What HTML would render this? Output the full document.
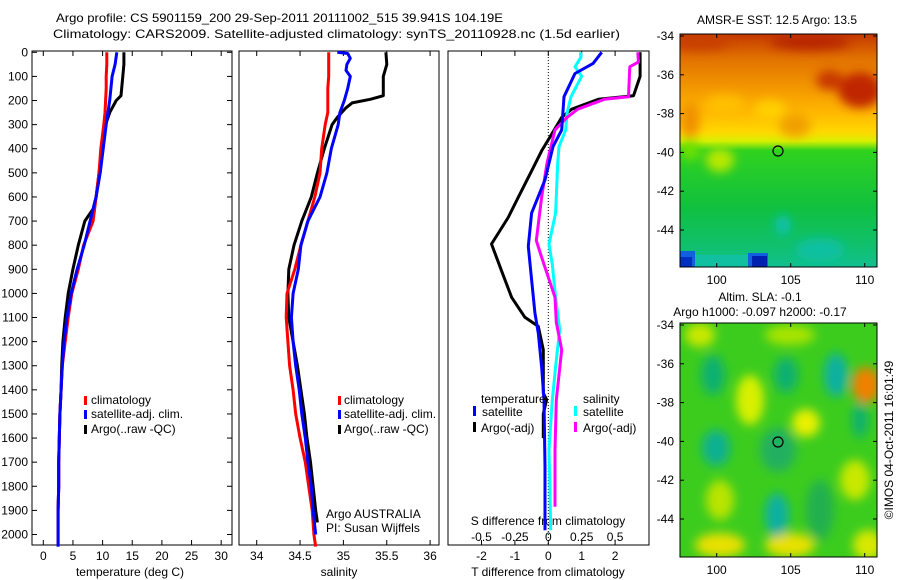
<!DOCTYPE html>
<html><head><meta charset="utf-8">
<style>
html,body{margin:0;padding:0;background:#fff;}
svg{display:block;font-family:"Liberation Sans",sans-serif;font-size:12px;}
</style></head>
<body>
<svg id="chart" width="900" height="580" viewBox="0 0 900 580" xmlns="http://www.w3.org/2000/svg">
<defs>
<linearGradient id="sstGrad" x1="0" y1="0" x2="0" y2="1">
<stop offset="0" stop-color="#c43800"/>
<stop offset="0.10" stop-color="#e07000"/>
<stop offset="0.22" stop-color="#f29400"/>
<stop offset="0.34" stop-color="#ffb800"/>
<stop offset="0.42" stop-color="#ffd800"/>
<stop offset="0.46" stop-color="#d8f000"/>
<stop offset="0.50" stop-color="#30d21e"/>
<stop offset="0.75" stop-color="#10c040"/>
<stop offset="0.92" stop-color="#10c070"/>
<stop offset="1" stop-color="#10c090"/>
</linearGradient>
<filter id="blur4"><feGaussianBlur stdDeviation="5"/></filter>
<clipPath id="clipM1"><rect x="680" y="34" width="197" height="233"/></clipPath>
<clipPath id="clipM2"><rect x="680" y="323" width="197" height="234"/></clipPath>
</defs>

<g>
<text x="56" y="22" textLength="447" lengthAdjust="spacingAndGlyphs">Argo profile: CS 5901159_200 29-Sep-2011 20111002_515 39.941S 104.19E</text>
<text x="53" y="38" textLength="567" lengthAdjust="spacingAndGlyphs">Climatology: CARS2009. Satellite-adjusted climatology: synTS_20110928.nc (1.5d earlier)</text>
</g>

<g id="axes"></g>
<g id="series"></g>

<g>
<rect x="84" y="396" width="3" height="9" fill="#f00"/><text x="91" y="404">climatology</text>
<rect x="84" y="410" width="3" height="9" fill="#00f"/><text x="91" y="418">satellite-adj. clim.</text>
<rect x="84" y="425" width="3" height="9" fill="#000"/><text x="91" y="433">Argo(..raw -QC)</text>
</g>
<g>
<rect x="338" y="396" width="3" height="9" fill="#f00"/><text x="344" y="404">climatology</text>
<rect x="338" y="410" width="3" height="9" fill="#00f"/><text x="344" y="418">satellite-adj. clim.</text>
<rect x="338" y="425" width="3" height="9" fill="#000"/><text x="344" y="433">Argo(..raw -QC)</text>
<text x="326" y="518">Argo AUSTRALIA</text>
<text x="326" y="532">PI: Susan Wijffels</text>
</g>
<g>
<text x="481" y="403">temperature</text>
<rect x="473" y="406" width="3" height="10" fill="#00f"/><text x="482" y="416">satellite</text>
<rect x="473" y="422" width="3" height="10" fill="#000"/><text x="481" y="432">Argo(-adj)</text>
<text x="583" y="403">salinity</text>
<rect x="574" y="406" width="3" height="10" fill="#0ff"/><text x="583" y="416">satellite</text>
<rect x="574" y="422" width="3" height="10" fill="#f0f"/><text x="583" y="432">Argo(-adj)</text>
</g>

<g>
<text x="777" y="24" text-anchor="middle">AMSR-E SST: 12.5 Argo: 13.5</text>
<g clip-path="url(#clipM1)">
<rect x="680" y="34" width="197" height="233" fill="url(#sstGrad)"/>
<g filter="url(#blur4)">
<ellipse cx="860" cy="90" rx="22" ry="18" fill="#c02800"/>
<ellipse cx="830" cy="80" rx="14" ry="10" fill="#c83800"/>
<ellipse cx="810" cy="42" rx="40" ry="8" fill="#b82800"/>
<ellipse cx="700" cy="42" rx="30" ry="8" fill="#c84000"/>
<ellipse cx="690" cy="120" rx="10" ry="18" fill="#f09000"/>
<ellipse cx="795" cy="125" rx="16" ry="12" fill="#f0a000"/>
<ellipse cx="725" cy="105" rx="20" ry="10" fill="#ffc000"/>
<ellipse cx="770" cy="110" rx="16" ry="10" fill="#ffd000"/>
<ellipse cx="720" cy="160" rx="14" ry="12" fill="#b8e800"/>
<ellipse cx="690" cy="150" rx="10" ry="10" fill="#70e000"/>
<ellipse cx="820" cy="250" rx="25" ry="12" fill="#10c0a0"/>
<ellipse cx="783" cy="225" rx="8" ry="10" fill="#10c0b0"/>
</g>
<rect x="680" y="251" width="15" height="16" fill="#1060e0"/>
<rect x="680" y="257" width="12" height="10" fill="#0030c0"/>
<rect x="748" y="253" width="20" height="14" fill="#1060e0"/>
<rect x="752" y="256" width="15" height="11" fill="#0020b0"/>
<rect x="695" y="255" width="53" height="12" fill="#10c0a0"/>
</g>
<rect x="680" y="34" width="197" height="233" fill="none" stroke="#000" stroke-width="1"/>
<circle cx="778" cy="151" r="5" fill="none" stroke="#000" stroke-width="1.2"/>
</g>

<g>
<text x="760" y="301" text-anchor="middle">Altim. SLA: -0.1</text>
<text x="760" y="316" text-anchor="middle">Argo h1000: -0.097 h2000: -0.17</text>
<g clip-path="url(#clipM2)">
<rect x="680" y="323" width="197" height="234" fill="#3ccc1e"/>
<g filter="url(#blur4)">
<ellipse cx="700" cy="335" rx="15" ry="12" fill="#c8e800"/>
<ellipse cx="790" cy="335" rx="25" ry="10" fill="#a8e400"/>
<ellipse cx="750" cy="400" rx="14" ry="25" fill="#d8f000"/>
<ellipse cx="806" cy="423" rx="14" ry="14" fill="#e8f000"/>
<ellipse cx="866" cy="385" rx="14" ry="18" fill="#f08000"/>
<ellipse cx="855" cy="480" rx="15" ry="20" fill="#c8e800"/>
<ellipse cx="720" cy="500" rx="14" ry="20" fill="#b8e400"/>
<ellipse cx="720" cy="545" rx="25" ry="12" fill="#e8e000"/>
<ellipse cx="790" cy="545" rx="25" ry="12" fill="#e8e000"/>
<ellipse cx="868" cy="545" rx="15" ry="15" fill="#d8e800"/>
<ellipse cx="713" cy="375" rx="12" ry="20" fill="#10b070"/>
<ellipse cx="786" cy="375" rx="12" ry="18" fill="#10b070"/>
<ellipse cx="836" cy="375" rx="12" ry="22" fill="#10b0a0"/>
<ellipse cx="716" cy="448" rx="14" ry="18" fill="#10b090"/>
<ellipse cx="778" cy="450" rx="18" ry="22" fill="#20b060"/>
<ellipse cx="777" cy="515" rx="12" ry="22" fill="#10b0a0"/>
<ellipse cx="860" cy="420" rx="8" ry="18" fill="#10b070"/>
<ellipse cx="820" cy="510" rx="14" ry="30" fill="#20b050"/>
</g>
</g>
<rect x="680" y="323" width="197" height="234" fill="none" stroke="#000" stroke-width="1"/>
<circle cx="778" cy="442" r="5" fill="none" stroke="#000" stroke-width="1.2"/>
<text transform="translate(893,440) rotate(-90)" text-anchor="middle">©IMOS 04-Oct-2011 16:01:49</text>
</g>

<script>
// ---- data ----
const depthTicks = [0,100,200,300,400,500,600,700,800,900,1000,1100,1200,1300,1400,1500,1600,1700,1800,1900,2000];
const tempTicks = [0,5,10,15,20,25,30];
const salTicks = [34,34.5,35,35.5,36];
const tdiffTicks = [-2,-1,0,1,2];
const sdiffTicks = [-0.5,-0.25,0,0.25,0.5];
const sdiffTickLabels = ["-0.5","-0.25","0","0.25","0.5"];

const depthStd = [0,50,100,150,200,250,300,400,500,600,700,800,900,1000,1100,1200,1300,1400,1500,1600,1700,1800,1900,2000,2050];
const tempClim = [10.7,10.7,10.6,10.6,10.5,10.4,10.2,9.7,9.4,8.9,8.4,6.8,5.9,4.8,4.2,3.7,3.2,3.0,2.8,2.7,2.6,2.6,2.5,2.5,2.5];
const tempSat  = [12.4,12.1,11.6,11.4,11.2,10.9,10.6,10.1,9.6,8.9,7.9,6.9,5.7,4.7,4.0,3.5,3.2,3.0,2.8,2.7,2.6,2.6,2.5,2.5,2.5];
const depthArgo = [0,50,100,180,200,250,300,400,500,600,650,700,800,900,1000,1100,1200,1300,1400,1500,1600,1700,1800,1900];
const tempArgo  = [13.6,13.6,13.4,13.1,12.3,11.2,10.5,9.9,9.4,8.9,8.4,7.0,5.9,5.0,4.2,3.7,3.3,3.1,3.0,2.8,2.7,2.6,2.6,2.5];

const salClim = [34.83,34.83,34.83,34.82,34.82,34.82,34.79,34.75,34.73,34.67,34.59,34.51,34.44,34.35,34.34,34.36,34.38,34.42,34.45,34.50,34.56,34.60,34.64,34.66,34.68];
const depthSalSat = [0,5,25,50,75,100,150,200,250,300,400,500,600,700,800,900,1000,1100,1200,1300,1400,1500,1600,1700,1800,1900,2000];
const salSat  = [34.93,35.05,35.08,35.04,35.03,35.08,35.05,35.01,34.96,34.94,34.86,34.81,34.73,34.59,34.51,34.48,34.42,34.40,34.42,34.45,34.49,34.52,34.56,34.59,34.63,34.65,34.68];
const depthSalArgo = [0,50,100,180,195,210,230,270,300,400,500,600,700,800,900,1000,1100,1200,1300,1400,1500,1600,1700,1800,1900,1950];
const salArgo = [35.49,35.50,35.46,35.46,35.31,35.10,35.03,34.93,34.87,34.78,34.70,34.63,34.52,34.43,34.37,34.36,34.37,34.42,34.47,34.51,34.55,34.58,34.62,34.65,34.68,34.70];

const depthDT = [0,46,88,184,322,391,529,667,805,943,1081,1165,1304,1442,1719,1982];
const tdiffSat = [1.6,1.34,0.8,0.47,0.4,0.14,-0.1,-0.5,-0.6,-0.5,-0.4,-0.3,-0.2,-0.13,-0.1,-0.1];
const depthDTA = [0,100,180,195,236,270,340,409,492,602,685,795,906,1016,1099,1137,1234,1413,1440,1500,1600];
const tdiffArgo = [2.75,2.75,2.55,1.5,0.7,0.4,0.1,-0.2,-0.5,-0.9,-1.2,-1.7,-1.4,-1.1,-0.7,-0.3,-0.15,-0.15,-0.05,-0.15,-0.15];
const depthDS = [0,20,60,99,184,253,322,391,460,667,795,880,1016,1150,1304,1442,1650,1800,1982];
const sdiffSat = [0.24,0.245,0.2,0.25,0.17,0.14,0.13,0.08,0.07,0.055,0.005,0.03,0.055,0.085,0.055,0.03,0.005,0.012,0.018];
const depthDSA = [0,40,60,184,195,236,270,322,460,602,781,850,1016,1120,1234,1442,1650,1885];
const sdiffArgo = [0.67,0.675,0.61,0.6,0.42,0.22,0.14,0.05,-0.01,-0.05,-0.09,-0.05,0.05,0.06,0.1,0.06,0.05,0.05];

// ---- layout ----
const Y0 = 52.3, PXD = 0.2411, YB = 545, YT = 51;
const yD = d => Y0 + d * PXD;
const P1 = {l:32, r:232}, P2 = {l:239, r:439}, P3 = {l:448, r:649};
const xT = v => 43.3 + v * 5.93;
const xS = v => 256.7 + (v - 34) * 86.7;
const xDT = v => 548.3 + v * 33.4;
const xDS = v => xDT(v * 4);

const NS = "http://www.w3.org/2000/svg";
const axes = document.getElementById('axes');
const series = document.getElementById('series');
function mk(tag, attrs, parent){ const e=document.createElementNS(NS,tag); for(const k in attrs) e.setAttribute(k,attrs[k]); parent.appendChild(e); return e; }

[[P1,'temperature-panel'],[P2,'salinity-panel'],[P3,'difference-panel']].forEach(([p,n])=>{
  const r = mk('rect',{x:p.l,y:YT,width:p.r-p.l,height:YB-YT,fill:'none',stroke:'#000','stroke-width':1},axes);
  
  
});
depthTicks.forEach(d=>{
  const y=yD(d);
  const t=mk('text',{x:28,y:y+4,'text-anchor':'end'},axes);
  t.textContent=d;
  
  
  mk('line',{x1:P1.l,x2:P1.l+5,y1:y,y2:y,stroke:'#000'},axes);
  mk('line',{x1:P1.r-5,x2:P1.r,y1:y,y2:y,stroke:'#000'},axes);
});
function xticks(vals, fx, p, labels){
  vals.forEach((v,i)=>{
    const x=fx(v);
    mk('line',{x1:x,x2:x,y1:YB,y2:YB-5,stroke:'#000'},axes);
    mk('line',{x1:x,x2:x,y1:YT,y2:YT+5,stroke:'#000'},axes);
    const t=mk('text',{x:x,y:YB+15,'text-anchor':'middle'},axes);
    t.textContent = labels ? labels[i] : v;
    
    
  });
}
xticks(tempTicks,xT,P1);
xticks(salTicks,xS,P2);
xticks(tdiffTicks,xDT,P3);
sdiffTicks.forEach((v,i)=>{
  const t=mk('text',{x:xDS(v),y:541,'text-anchor':'middle'},axes);
  t.textContent=sdiffTickLabels[i];
  
  
});
[[130,'temperature (deg C)','x-axis-title-temperature'],[339,'salinity','x-axis-title-salinity'],[548,'T difference from climatology','x-axis-title-tdiff']].forEach(([x,s,n])=>{
  const t=mk('text',{x:x,y:576,'text-anchor':'middle'},axes);
  t.textContent=s;
  
  
});
{
  const t=mk('text',{x:548,y:525,'text-anchor':'middle'},axes);
  t.textContent='S difference from climatology';
  
  
}
{
  const l=mk('line',{x1:xDT(0),x2:xDT(0),y1:YT,y2:YB,stroke:'#000','stroke-dasharray':'1,2'},axes);
  
  
}
function line(xs, ds, fx, color, name){
  const pts = xs.map((v,i)=>fx(v).toFixed(1)+','+yD(ds[i]).toFixed(1)).join(' ');
  const pl = mk('polyline',{points:pts,fill:'none',stroke:color,'stroke-width':3,'stroke-linejoin':'round'},series);
  
  
}
line(tempArgo, depthArgo, xT, '#000', 'temp-argo-line');
line(tempClim, depthStd, xT, '#f00', 'temp-climatology-line');
line(tempSat, depthStd, xT, '#00f', 'temp-satellite-line');
line(salArgo, depthSalArgo, xS, '#000', 'sal-argo-line');
line(salClim, depthStd, xS, '#f00', 'sal-climatology-line');
line(salSat, depthSalSat, xS, '#00f', 'sal-satellite-line');
line(tdiffArgo, depthDTA, xDT, '#000', 'tdiff-argo-line');
line(sdiffSat, depthDS, xDS, '#0ff', 'sdiff-satellite-line');
line(sdiffArgo, depthDSA, xDS, '#f0f', 'sdiff-argo-line');
line(tdiffSat, depthDT, xDT, '#00f', 'tdiff-satellite-line');

const svgRoot=document.getElementById('chart');
const mapAxG=mk('g',{},svgRoot);


function mapAxesInto(g,top,bottom){
  const lx = v => 716.7 + (v-100)*14.8;
  const ly = v => top + 2 + (-34 - v)*19.4;
  [-34,-36,-38,-40,-42,-44].forEach(v=>{
    const y=ly(v);
    mk('line',{x1:680,x2:684,y1:y,y2:y,stroke:'#000'},g);
    mk('line',{x1:873,x2:877,y1:y,y2:y,stroke:'#000'},g);
    const t=mk('text',{x:674,y:y+4,'text-anchor':'end'},g);
    t.textContent=v;
    
    
  });
  [100,105,110].forEach(v=>{
    const x=lx(v);
    mk('line',{x1:x,x2:x,y1:bottom,y2:bottom-4,stroke:'#000'},g);
    mk('line',{x1:x,x2:x,y1:top,y2:top+4,stroke:'#000'},g);
    const t=mk('text',{x:x,y:bottom+17,'text-anchor':'middle'},g);
    t.textContent=v;
    
    
  });
}
mapAxesInto(mapAxG,34,267);
mapAxesInto(mapAxG,323,557);
</script>
</svg>
</body></html>
